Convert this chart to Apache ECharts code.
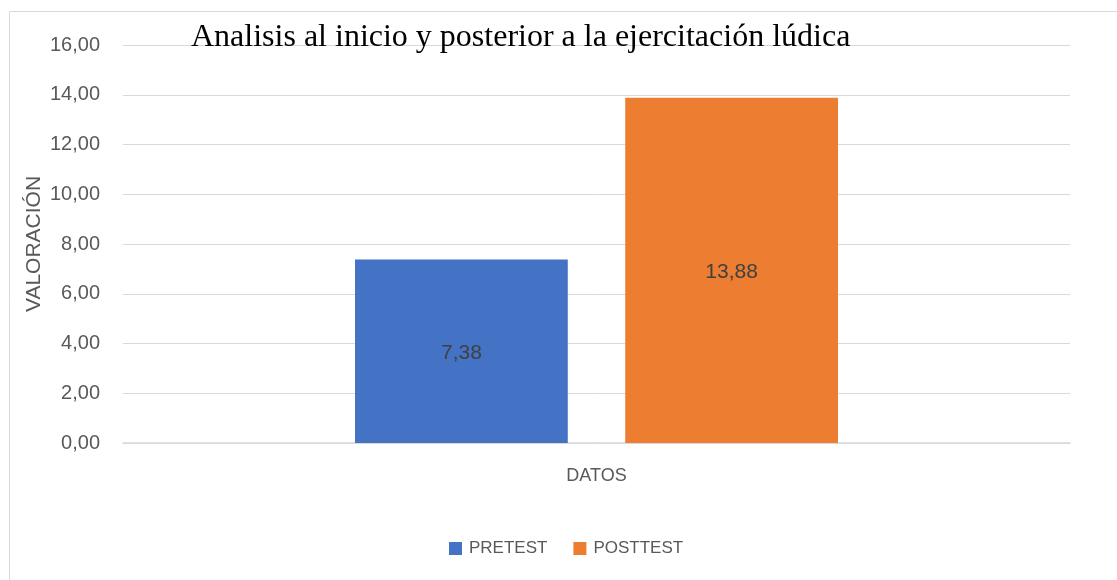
<!DOCTYPE html>
<html>
<head>
<meta charset="utf-8">
<script src="https://cdn.jsdelivr.net/npm/echarts@6/dist/echarts.min.js"></script>
<style>
  html, body { margin: 0; padding: 0; background: #fff; }
  #chart { width: 1117px; height: 580px; }
</style>
</head>
<body>
<div id="chart"></div>
<script>
var categories = ['DATOS'];
var seriesNames = ['PRETEST', 'POSTTEST'];
var pretest = [7.38];
var posttest = [13.88];
var yMin = 0, yMax = 16, yStep = 2;

// 7.38 -> "7,38"
function comma(v) {
  return Number(v).toFixed(2).replace('.', ',');
}

var chart = echarts.init(document.getElementById('chart'));
chart.setOption({
  animation: false,
  title: {
    text: 'Analisis al inicio y posterior a la ejercitación lúdica',
    left: 186,
    top: 17,
    textStyle: { fontFamily: 'Liberation Serif', fontSize: 32, fontWeight: 'normal', color: '#000' }
  },
  graphic: [{
    type: 'rect',
    shape: { x: 9.5, y: 11.5, width: 1300, height: 800 },
    style: { fill: 'none', stroke: '#d9d9d9', lineWidth: 1 },
    silent: true
  }],
  legend: {
    data: seriesNames,
    left: 444,
    top: 535,
    icon: 'rect',
    itemWidth: 13,
    itemHeight: 13,
    itemGap: 26,
    textStyle: { fontFamily: 'Liberation Sans', fontSize: 17, color: '#595959', padding: [0, 0, 0, 2] }
  },
  grid: { left: 123, right: 47, top: 45, bottom: 137 },
  xAxis: {
    type: 'category',
    data: categories,
    axisLine: { lineStyle: { color: '#d9d9d9', width: 1.5 } },
    axisTick: { show: false },
    axisLabel: { margin: 24, fontFamily: 'Liberation Sans', fontSize: 18, color: '#595959' }
  },
  yAxis: {
    type: 'value',
    min: yMin,
    max: yMax,
    interval: yStep,
    name: 'VALORACIÓN',
    nameLocation: 'middle',
    nameRotate: 90,
    nameGap: 78,
    nameMoveOverlap: false,
    nameTextStyle: { fontFamily: 'Liberation Sans', fontSize: 21, color: '#595959' },
    axisLine: { show: false },
    axisTick: { show: false },
    axisLabel: { margin: 23, fontFamily: 'Liberation Sans', fontSize: 20, color: '#595959', formatter: comma },
    splitLine: { lineStyle: { color: '#d9d9d9', width: 1 } }
  },
  series: [{
    name: seriesNames[0],
    type: 'bar',
    data: pretest,
    barGap: '27%',
    barCategoryGap: '49%',
    itemStyle: { color: '#4472c4' },
    label: { show: true, position: 'inside', offset: [0, 2], fontFamily: 'Liberation Sans', fontSize: 21, color: '#404040', formatter: function (p) { return comma(p.value); } }
  }, {
    name: seriesNames[1],
    type: 'bar',
    data: posttest,
    itemStyle: { color: '#ed7d31' },
    label: { show: true, position: 'inside', offset: [0, 2], fontFamily: 'Liberation Sans', fontSize: 21, color: '#404040', formatter: function (p) { return comma(p.value); } }
  }]
});
</script>
</body>
</html>
